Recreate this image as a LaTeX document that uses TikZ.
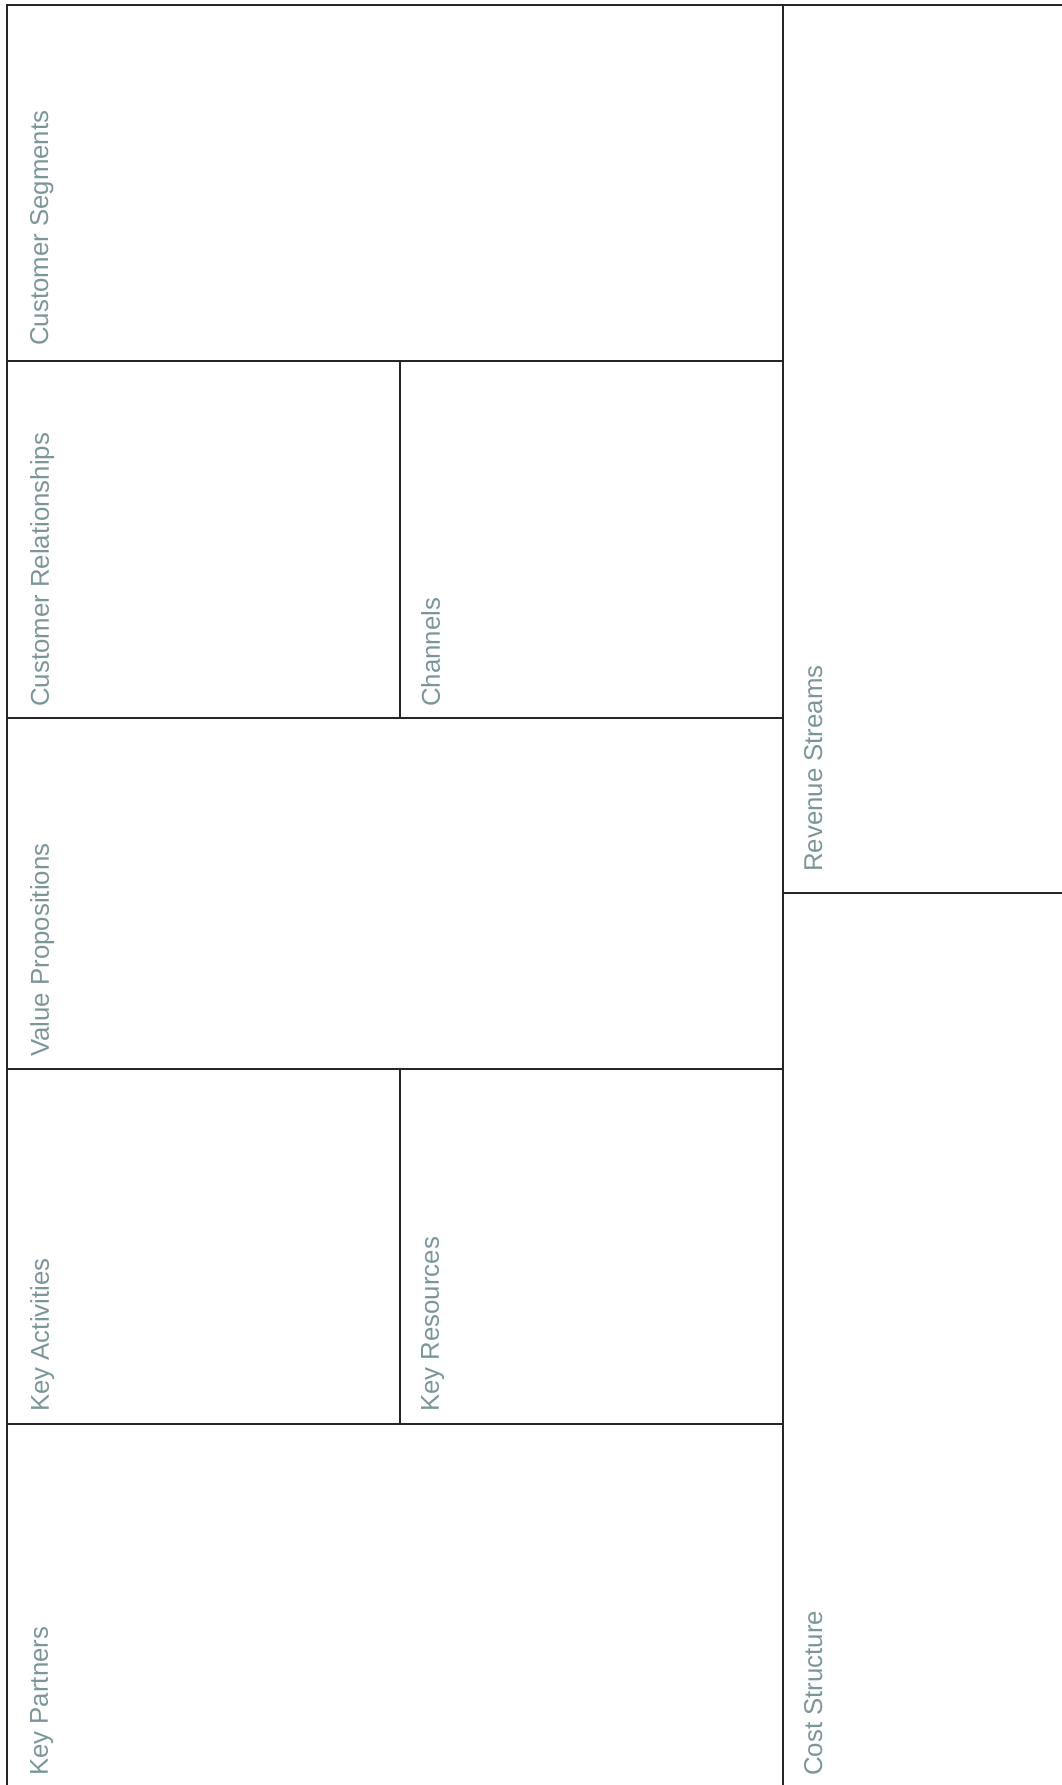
\documentclass[tikz,border=0pt]{standalone}
\usepackage{fontspec}
\setmainfont{Liberation Sans}
\definecolor{labelcol}{RGB}{122,150,152}
\definecolor{linecol}{RGB}{38,38,38}
\begin{document}
\begin{tikzpicture}[x=1pt,y=-1pt,
  grid/.style={draw=linecol,line width=2.7pt},
  lbl/.style={rotate=90,anchor=north west,inner sep=0pt,text=labelcol,font=\fontsize{25.8}{31}\selectfont}]
\useasboundingbox (0,0) rectangle (1062,1785);
% frame lines
\draw[grid] (7,1785) -- (7,5) -- (1062,5);
\draw[grid] (783,5) -- (783,1785);
\draw[grid] (7,361) -- (783,361);
\draw[grid] (7,718) -- (783,718);
\draw[grid] (7,1069) -- (783,1069);
\draw[grid] (7,1424) -- (783,1424);
\draw[grid] (400,361) -- (400,718);
\draw[grid] (400,1069) -- (400,1424);
\draw[grid] (783,893) -- (1062,893);
% labels
\node[lbl] (cs) at (30,346) {Customer Segments};
\node[lbl] (cr) at (30,707) {Customer Relationships};
\node[lbl] (ch) at (421,707) {Channels};
\node[lbl] (vp) at (30,1057) {Value Propositions};
\node[lbl] (ka) at (30,1412) {Key Activities};
\node[lbl] (kr) at (421,1412) {Key Resources};
\node[lbl] (kp) at (30,1776) {Key Partners};
\node[lbl] (rs) at (804,872) {Revenue Streams};
\node[lbl] (cst) at (804,1776) {Cost Structure};
\end{tikzpicture}
\end{document}
